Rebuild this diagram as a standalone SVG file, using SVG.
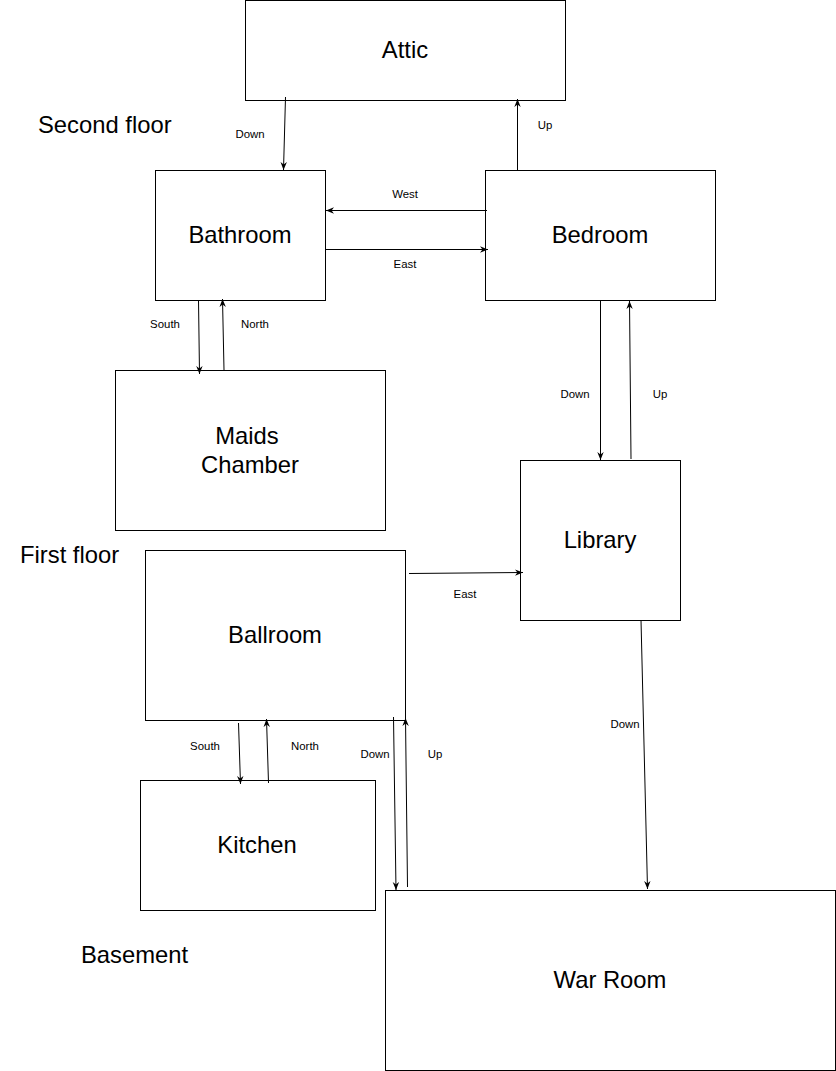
<svg xmlns="http://www.w3.org/2000/svg" width="836" height="1071" viewBox="0 0 836 1071">
<style>
.box{fill:#fff;stroke:#000;stroke-width:1}
.nt{font-family:"Liberation Sans",Arial,sans-serif;font-size:23.8px;fill:#000;text-anchor:middle;dominant-baseline:central}
.fl{font-family:"Liberation Sans",Arial,sans-serif;font-size:23.8px;fill:#000;dominant-baseline:central}
.lb{font-family:"Liberation Sans",Arial,sans-serif;font-size:11.4px;fill:#000;text-anchor:middle;dominant-baseline:central}
.c{fill:none;stroke:#000;stroke-width:1}
</style>
<defs>
<marker id="ah" viewBox="0 0 10 10" refX="10" refY="5" markerWidth="8" markerHeight="8" markerUnits="userSpaceOnUse" orient="auto">
<path d="M0,1 L10,5 L0,9 L3,5 z" fill="#000"/>
</marker>
</defs>
<rect width="836" height="1071" fill="#fff"/>
<g id="floor-labels">
<text class="fl" x="38" y="124">Second floor</text>
<text class="fl" x="20" y="554">First floor</text>
<text class="fl" x="81" y="954">Basement</text>
</g>
<g id="attic"><rect class="box" x="245.5" y="0.5" width="320" height="100"/><text class="nt" x="405" y="49">Attic</text></g>
<g id="bathroom"><rect class="box" x="155.5" y="170.5" width="170" height="130"/><text class="nt" x="240" y="234">Bathroom</text></g>
<g id="bedroom"><rect class="box" x="485.5" y="170.5" width="230" height="130"/><text class="nt" x="600" y="234">Bedroom</text></g>
<g id="maids-chamber"><rect class="box" x="115.5" y="370.5" width="270" height="160"/><text class="nt" x="247" y="435">Maids</text><text class="nt" x="250" y="464">Chamber</text></g>
<g id="library"><rect class="box" x="520.5" y="460.5" width="160" height="160"/><text class="nt" x="600" y="539">Library</text></g>
<g id="ballroom"><rect class="box" x="145.5" y="550.5" width="260" height="170"/><text class="nt" x="275" y="634">Ballroom</text></g>
<g id="kitchen"><rect class="box" x="140.5" y="780.5" width="235" height="130"/><text class="nt" x="257" y="844">Kitchen</text></g>
<g id="war-room"><rect class="box" x="385.5" y="890.5" width="450" height="180"/><text class="nt" x="610" y="979">War Room</text></g>
<g id="connectors">
<path class="c" marker-end="url(#ah)" d="M285.5,97 L283.5,170"/>
<path class="c" marker-end="url(#ah)" d="M517.5,170 L517.5,99"/>
<path class="c" marker-end="url(#ah)" d="M487,210.5 L326,210.5"/>
<path class="c" marker-end="url(#ah)" d="M326,249.5 L488,249.5"/>
<path class="c" marker-end="url(#ah)" d="M198.5,300 L199.5,374"/>
<path class="c" marker-end="url(#ah)" d="M224,370 L222.5,299"/>
<path class="c" marker-end="url(#ah)" d="M600.5,300 L600.5,460"/>
<path class="c" marker-end="url(#ah)" d="M631,459 L629.5,301"/>
<path class="c" marker-end="url(#ah)" d="M409,573.5 L523,572.5"/>
<path class="c" marker-end="url(#ah)" d="M238.5,723 L240.5,784"/>
<path class="c" marker-end="url(#ah)" d="M268.5,783 L266.5,719"/>
<path class="c" marker-end="url(#ah)" d="M393.5,717 L396,890"/>
<path class="c" marker-end="url(#ah)" d="M407.5,887 L405.5,718"/>
<path class="c" marker-end="url(#ah)" d="M641,620 L647.5,889"/>
</g>
<g id="connector-labels">
<text class="lb" x="250" y="134">Down</text>
<text class="lb" x="545" y="125">Up</text>
<text class="lb" x="405" y="194">West</text>
<text class="lb" x="405" y="264">East</text>
<text class="lb" x="165" y="324">South</text>
<text class="lb" x="255" y="324">North</text>
<text class="lb" x="575" y="394">Down</text>
<text class="lb" x="660" y="394">Up</text>
<text class="lb" x="465" y="594">East</text>
<text class="lb" x="205" y="746">South</text>
<text class="lb" x="305" y="746">North</text>
<text class="lb" x="375" y="754">Down</text>
<text class="lb" x="435" y="754">Up</text>
<text class="lb" x="625" y="724">Down</text>
</g>
</svg>
